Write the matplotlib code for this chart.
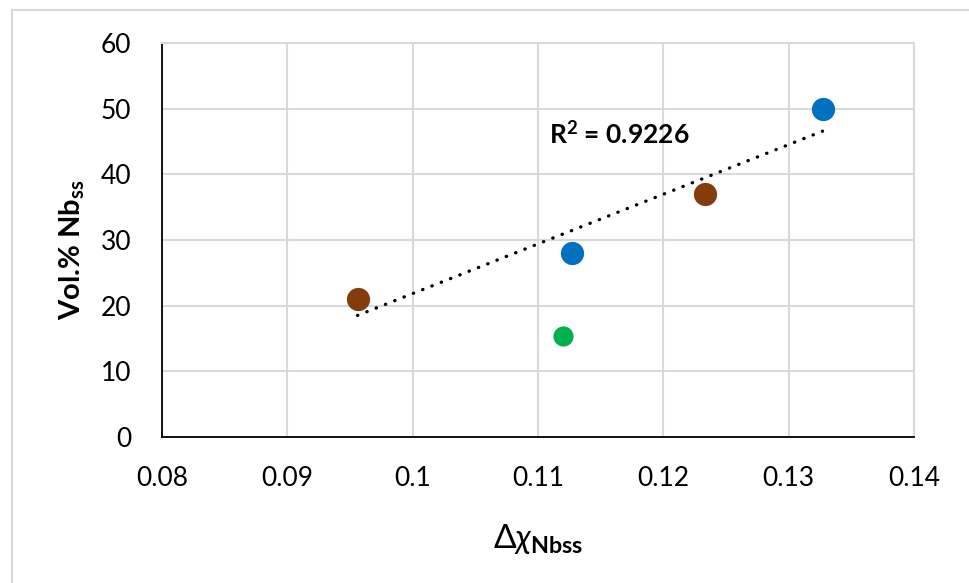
import numpy as np
import matplotlib
matplotlib.use('Agg')
import matplotlib.pyplot as plt
from matplotlib.patches import Rectangle

plt.rcParams['font.family'] = ['Lato', 'DejaVu Sans']
plt.rcParams['mathtext.fontset'] = 'custom'
plt.rcParams['mathtext.rm'] = 'Lato'
plt.rcParams['mathtext.bf'] = 'Lato:bold'
plt.rcParams['mathtext.it'] = 'Lato:italic'
plt.rcParams['mathtext.fallback'] = 'stixsans'

# data
blue_x = [0.1127, 0.1327]
blue_y = [28, 50]
brown_x = [0.0956, 0.1233]
brown_y = [21, 37]
green_x = [0.1120]
green_y = [15.4]
r2_label = 'R$^{\\mathbf{2}}$ = 0.9226'

xticks = [0.08, 0.09, 0.1, 0.11, 0.12, 0.13, 0.14]
xticklabels = ['0.08', '0.09', '0.1', '0.11', '0.12', '0.13', '0.14']
yticks = [0, 10, 20, 30, 40, 50, 60]

fig = plt.figure(figsize=(9.7, 5.83), dpi=100)
fig.patches.append(Rectangle((12 / 970, -0.1), 1.2, 1 - 10 / 583 + 0.1,
                             transform=fig.transFigure, fill=False,
                             edgecolor='#D9D9D9', linewidth=1.5))
ax = fig.add_axes([162 / 970, 1 - 437 / 583, (914 - 162) / 970, (437 - 43) / 583])

ax.set_xlim(0.08, 0.14)
ax.set_ylim(0, 60)
ax.set_xticks(xticks)
ax.set_xticklabels(xticklabels)
ax.set_yticks(yticks)
ax.grid(True, color='#D9D9D9', linewidth=1.5)
ax.set_axisbelow(True)
ax.tick_params(length=0, labelsize=19)
ax.tick_params(axis='y', pad=22)
ax.tick_params(axis='x', pad=21)
for s in ['top', 'right']:
    ax.spines[s].set_color('#D9D9D9')
    ax.spines[s].set_linewidth(1.5)
for s in ['left', 'bottom']:
    ax.spines[s].set_color('black')
    ax.spines[s].set_linewidth(1.3)

# linear trend over blue + brown points
tx = np.array(brown_x + blue_x)
ty = np.array(brown_y + blue_y)
k, b = np.polyfit(tx, ty, 1)
lx = np.array([tx.min(), tx.max()])
ax.plot(lx, k * lx + b, color='black', linewidth=2.4,
        linestyle=(0, (0.1, 2.9)), dash_capstyle='round', zorder=2)

ax.scatter(blue_x, blue_y, s=280, color='#0070C0', zorder=3, linewidths=0)
ax.scatter(brown_x, brown_y, s=280, color='#843C0C', zorder=3, linewidths=0)
ax.scatter(green_x, green_y, s=210, color='#00B050', zorder=3, linewidths=0)

ax.text(0.1109, 46.3, r2_label, fontsize=19, fontweight='bold', va='center')

ax.set_xlabel('$\\Delta\\chi_{\\mathbf{Nbss}}$', fontsize=24, labelpad=22)
ax.set_ylabel('Vol.% Nb$_{\\mathbf{ss}}$', fontsize=21, fontweight='bold', labelpad=8)
ax.yaxis.set_label_coords(-0.10, 0.475)

fig.savefig('out.png', dpi=100)
